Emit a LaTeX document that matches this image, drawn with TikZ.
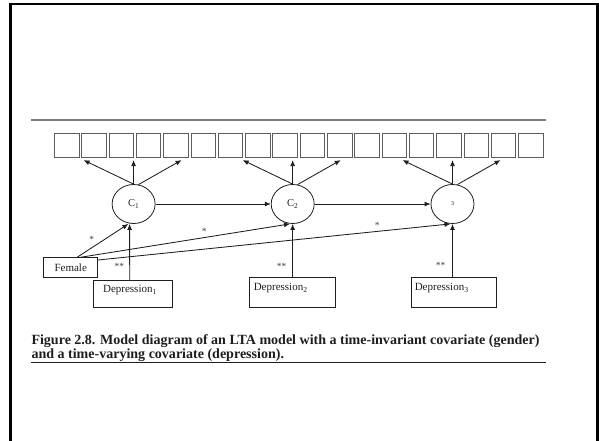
\documentclass[tikz,border=0pt]{standalone}
\usepackage{fontspec}
\setmainfont{Liberation Serif}
\usetikzlibrary{arrows.meta,calc,shapes.geometric}
\definecolor{ink}{HTML}{1E1E1E}
\definecolor{boxgray}{HTML}{5C5C5C}
\definecolor{rulegray}{HTML}{7D7D7D}
\begin{document}
\begin{tikzpicture}[x=1pt,y=-1pt,
  arr/.style={draw=ink, line width=0.85pt, -{Latex[length=6pt,width=5pt]}},
  ind/.style={draw=boxgray, line width=0.8pt, rectangle, minimum width=24.5pt,
    minimum height=24pt, inner sep=0pt, anchor=north west},
  lat/.style={draw=ink, line width=0.8pt, ellipse, minimum width=43pt,
    minimum height=39pt, inner sep=0pt, font=\fontsize{10.5}{12}\selectfont, text=ink},
  cov/.style={draw=ink, line width=0.8pt, rectangle, inner sep=0pt, anchor=north west},
  lbl/.style={font=\fontsize{11}{12}\selectfont, text=ink, inner sep=0pt},
  star/.style={font=\fontsize{9.5}{10}\selectfont, text=ink!85, inner sep=0pt}]
\useasboundingbox (0,0) rectangle (599,441);

% page frame (open at the bottom)
\draw[black, line width=2.6pt] (10.3,441) -- (10.3,4) -- (597.7,4) -- (597.7,441);

% rule above the figure
\draw[rulegray, line width=1.1pt] (31,120) -- (545.5,120);

% row of indicator boxes
\foreach \i in {0,...,17}
  \node[ind] (b\i) at ({54+27.3*\i},133) {};

% latent class variables
\node[lat] (c1) at (133.6,204) {C\textsubscript{1}};
\node[lat] (c2) at (292.7,204) {C\textsubscript{2}};
\node[lat] (c3) at (452.5,204) {\raisebox{-1.5pt}{\fontsize{6}{7}\selectfont 3}};

% measurement arrows to the indicators
\foreach \k in {1,2,3} {
  \coordinate (t\k l) at ($(c\k.north)+(-50,-24)$);
  \coordinate (t\k m) at ($(c\k.north)+(0,-24)$);
  \coordinate (t\k r) at ($(c\k.north)+(48,-24)$);
  \draw[arr] (c\k.north) -- (t\k l);
  \draw[arr] (c\k.north) -- (t\k m);
  \draw[arr] (c\k.76) -- (t\k r);
}

% transitions
\draw[arr] (c1.east) -- (c2.west);
\draw[arr] (c2.east) -- (c3.west);

% covariates
\node[cov, minimum width=54pt, minimum height=20pt, lbl] (fem) at (43.3,257.3) {Female};
\node[cov, minimum width=79.2pt, minimum height=26.7pt] (dep1) at (92.5,280) {};
\node[cov, minimum width=86pt, minimum height=30pt] (dep2) at (249,276.7) {};
\node[cov, minimum width=85pt, minimum height=30pt] (dep3) at (410.7,276.7) {};
\node[lbl] (d1t) at (130,290.5) {Depression\textsubscript{1}};
\node[lbl] (d2t) at (280.7,288.3) {Depression\textsubscript{2}};
\node[lbl] (d3t) at (441.7,288.3) {Depression\textsubscript{3}};

% covariate effects
\draw[arr] ([xshift=6.4pt]fem.north) -- ([xshift=-5.2pt]c1.south);
\draw[arr] ([xshift=9.7pt]fem.north) -- ([xshift=-2.7pt]c2.south);
\draw[arr] ([yshift=-2.7pt]fem.north east) -- ([xshift=-2pt]c3.south);
\draw[arr] ([xshift=-2.8pt]dep1.north) -- ([xshift=-4pt]c1.south);
\draw[arr] (dep2.north -| c2.south) -- (c2.south);
\draw[arr] (dep3.north -| c3.south) -- (c3.south);

% significance marks
\node[star] (s1) at (91.7,239) {*};
\node[star] (s2) at (119.3,266.7) {**};
\node[star] (s3) at (204.3,231) {*};
\node[star] (s4) at (281.7,266) {**};
\node[star] (s5) at (377.3,225.7) {*};
\node[star] (s6) at (440.7,265.7) {**};

% caption
\node[anchor=north west, inner sep=0pt, text=ink] (cap) at (31.3,334.5)
  {\resizebox{508pt}{!}{\fontsize{14}{14}\selectfont\bfseries
   \begin{tabular}{@{}l@{}}
   Figure 2.8. Model diagram of an LTA model with a time-invariant covariate (gender)\\
   and a time-varying covariate (depression).
   \end{tabular}}};
\draw[ink, line width=1pt] (31,362.5) -- (545.5,362.5);
\end{tikzpicture}
\end{document}
